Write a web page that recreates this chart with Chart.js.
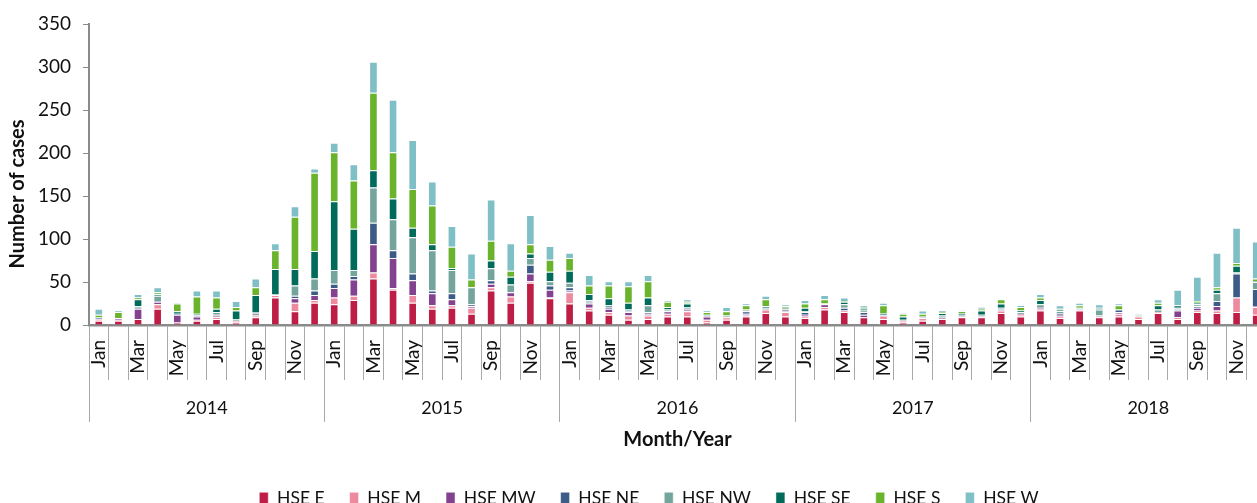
<!DOCTYPE html>
<html>
<head>
<meta charset="utf-8">
<script src="https://cdn.jsdelivr.net/npm/chart.js@4.4.1/dist/chart.umd.min.js"></script>
<style>
  html, body { margin: 0; padding: 0; background: #fff; overflow: hidden; }
  #wrap { width: 1298px; height: 517px; }
</style>
</head>
<body>
<div id="wrap"><canvas id="casesChart"></canvas></div>
<script>
// Tick labels
const years = ["2014", "2015", "2016", "2017", "2018"];
const months = ["Jan", "Feb", "Mar", "Apr", "May", "Jun", "Jul", "Aug", "Sep", "Oct", "Nov", "Dec"];
const regions = ["HSE E", "HSE M", "HSE MW", "HSE NE", "HSE NW", "HSE SE", "HSE S", "HSE W"];

// Monthly cases per region, Jan 2014 .. Dec 2018
const hseE = [5, 5, 7, 19, 3, 5, 7, 3, 9, 32, 16, 26,
  24, 29, 54, 41, 26, 19, 20, 13, 40, 26, 49, 31,
  25, 17, 12, 6, 7, 10, 10, 3, 6, 10, 14, 10,
  8, 18, 15, 9, 7, 3, 5, 7, 9, 9, 14, 10,
  17, 8, 17, 9, 10, 7, 14, 7, 15, 14, 15, 12];
const hseM = [1, 1, 0, 5, 0, 1, 2, 2, 2, 3, 10, 3,
  8, 5, 7, 2, 9, 4, 3, 7, 4, 7, 2, 1,
  13, 3, 3, 5, 4, 3, 6, 3, 3, 1, 4, 5,
  2, 3, 2, 0, 4, 2, 3, 0, 1, 1, 3, 2,
  2, 2, 1, 1, 3, 3, 1, 2, 2, 3, 17, 9];
const hseMW = [1, 2, 12, 3, 9, 4, 2, 0, 1, 0, 5, 6,
  11, 19, 33, 35, 17, 14, 7, 2, 4, 5, 9, 9,
  2, 5, 4, 4, 2, 3, 2, 4, 1, 2, 0, 1,
  2, 3, 0, 3, 0, 0, 1, 1, 0, 0, 1, 1,
  1, 2, 0, 1, 2, 0, 0, 8, 3, 5, 0, 1];
const hseNE = [1, 0, 1, 1, 1, 1, 1, 0, 2, 0, 3, 5,
  5, 4, 25, 9, 8, 3, 7, 2, 4, 0, 10, 5,
  4, 2, 2, 1, 2, 0, 1, 1, 0, 3, 1, 2,
  3, 0, 3, 3, 0, 0, 0, 1, 0, 0, 2, 2,
  1, 2, 0, 0, 3, 0, 0, 1, 2, 6, 28, 20];
const hseNW = [1, 0, 2, 6, 0, 1, 3, 2, 1, 1, 12, 14,
  16, 7, 41, 36, 42, 47, 27, 20, 14, 9, 8, 5,
  5, 2, 2, 2, 8, 2, 2, 0, 0, 1, 1, 1,
  1, 0, 4, 2, 1, 1, 0, 2, 2, 2, 0, 0,
  3, 2, 2, 7, 0, 0, 3, 2, 2, 9, 1, 8];
const hseSE = [0, 0, 8, 2, 3, 1, 4, 10, 20, 29, 19, 32,
  80, 48, 20, 24, 11, 7, 2, 0, 9, 9, 5, 11,
  14, 7, 8, 8, 9, 3, 4, 1, 1, 1, 2, 1,
  4, 1, 3, 2, 2, 4, 1, 3, 2, 5, 5, 2,
  5, 2, 0, 2, 0, 0, 5, 3, 2, 4, 8, 1];
const hseS = [3, 7, 2, 2, 9, 20, 13, 4, 9, 22, 61, 91,
  57, 56, 90, 54, 45, 45, 25, 9, 23, 7, 11, 14,
  15, 10, 15, 19, 19, 6, 2, 3, 5, 5, 8, 2,
  5, 5, 1, 1, 9, 3, 3, 1, 2, 2, 5, 4,
  3, 1, 3, 0, 5, 1, 3, 0, 2, 3, 3, 3];
const hseW = [7, 2, 4, 6, 1, 7, 8, 7, 10, 8, 12, 5,
  11, 19, 36, 61, 57, 28, 24, 30, 48, 32, 34, 16,
  6, 12, 5, 6, 7, 2, 3, 2, 5, 2, 4, 2,
  4, 5, 4, 3, 3, 1, 4, 2, 1, 2, 0, 2,
  4, 4, 3, 4, 2, 2, 4, 18, 28, 40, 41, 43];

const seriesValues = [hseE, hseM, hseMW, hseNE, hseNW, hseSE, hseS, hseW];
const seriesColors = ["#BE1E46", "#EE8AA0", "#824290", "#3D5B87", "#74A59C", "#006B5A", "#6AB42D", "#7FBFC6"];

// one category per month
const monthLabels = years.flatMap((y) => months.map((m) => `${m} ${y}`));

Chart.defaults.font.family = "Lato, 'DejaVu Sans', sans-serif";
Chart.defaults.color = "#111";

const axisGrey = "#8a8a8a";
const lineGrey = "#a9a9a9";

const data = {
  labels: monthLabels,
  datasets: regions.map((name, i) => ({
    label: name,
    data: seriesValues[i],
    backgroundColor: seriesColors[i],
    borderColor: "rgba(255,255,255,0.5)",
    borderWidth: 1,
    barPercentage: 0.44,
    categoryPercentage: 1.0,
  })),
};

const config = {
  type: "bar",
  data: data,
  options: {
    responsive: true,
    maintainAspectRatio: false,
    animation: false,
    layout: { padding: { top: 24, left: 0, right: 0, bottom: 0 } },
    plugins: {
      tooltip: { enabled: false },
      legend: {
        position: "bottom",
        labels: {
          boxWidth: 9,
          boxHeight: 12,
          padding: 25,
          color: "#111",
          font: { size: 17.5 },
        },
      },
    },
    scales: {
      x: {
        stacked: true,
        grid: {
          offset: true,
          drawOnChartArea: false,
          tickLength: 55,
          color: lineGrey,
          lineWidth: 1,
        },
        border: { color: axisGrey, width: 2.5 },
        ticks: {
          autoSkip: false,
          minRotation: 90,
          maxRotation: 90,
          padding: -40,
          font: { size: 19 },
          callback: (value, index) => (index % 2 === 0 ? months[index % 12] : ""),
        },
        afterFit: (scale) => { scale.height = 55; },
      },
      x2: {
        type: "category",
        labels: years,
        position: "bottom",
        offset: true,
        grid: {
          offset: true,
          drawOnChartArea: false,
          tickLength: 42,
          color: lineGrey,
          lineWidth: 1,
        },
        border: { display: false },
        ticks: { padding: -25, font: { size: 18 } },
        title: {
          display: true,
          text: "Month/Year",
          font: { size: 20, weight: "bold" },
          padding: { top: 0, bottom: 12.5 },
        },
        afterFit: (scale) => { scale.height = 84.5; },
      },
      y: {
        stacked: true,
        min: 0,
        max: 350,
        ticks: { stepSize: 50, padding: 12, font: { size: 19 } },
        grid: { drawOnChartArea: false, tickLength: 6, color: axisGrey },
        border: { color: axisGrey, width: 2 },
        title: {
          display: true,
          // trailing spaces nudge the centred title down, as in the source chart
          text: "Number of cases        ",
          font: { size: 20, weight: "bold" },
          padding: { top: 6, bottom: 0 },
        },
        afterFit: (scale) => { scale.width = 89; },
      },
      yRight: {
        position: "right",
        display: true,
        ticks: { display: false },
        grid: { display: false },
        border: { display: false },
        afterFit: (scale) => { scale.width = 32; },
      },
    },
  },
};

const ctx = document.getElementById("casesChart").getContext("2d");
new Chart(ctx, config);
</script>
</body>
</html>
